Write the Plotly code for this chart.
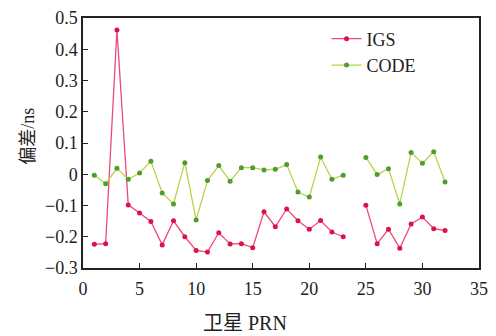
import plotly.graph_objects as go

prn = list(range(1, 33))
igs = [-0.224, -0.222, 0.462, -0.098, -0.124, -0.151, -0.226, -0.149, -0.200, -0.244,
       -0.249, -0.187, -0.223, -0.222, -0.235, -0.120, -0.168, -0.111, -0.149, -0.176,
       -0.148, -0.185, -0.200, None, -0.099, -0.222, -0.176, -0.237, -0.159, -0.137,
       -0.174, -0.180]
code = [-0.003, -0.030, 0.019, -0.016, 0.004, 0.042, -0.060, -0.095, 0.037, -0.146,
        -0.020, 0.028, -0.022, 0.021, 0.021, 0.014, 0.016, 0.031, -0.057, -0.073,
        0.055, -0.016, -0.003, None, 0.054, -0.001, 0.018, -0.095, 0.070, 0.035,
        0.072, -0.025]

x_ticks = [0, 5, 10, 15, 20, 25, 30, 35]
y_ticks = [-0.3, -0.2, -0.1, 0, 0.1, 0.2, 0.3, 0.4, 0.5]

font_main = "Liberation Serif, Times New Roman, Noto Sans CJK SC, serif"
txt_col = "#222222"

fig = go.Figure()
fig.add_trace(go.Scatter(
    x=prn, y=igs, name="IGS", mode="lines+markers", connectgaps=False,
    line=dict(color="#ee4a78", width=1.3),
    marker=dict(color="#dc1446", size=5),
))
fig.add_trace(go.Scatter(
    x=prn, y=code, name="CODE", mode="lines+markers", connectgaps=False,
    line=dict(color="#b8d44a", width=1.3),
    marker=dict(color="#4c9e30", size=5),
))

axis_common = dict(
    showline=True, linecolor=txt_col, linewidth=1.5, mirror=True,
    ticks="inside", ticklen=5, tickwidth=1.2, tickcolor=txt_col,
    showgrid=False, zeroline=False,
    tickfont=dict(family=font_main, size=18, color=txt_col),
)

fig.update_xaxes(range=[0, 35], tickvals=x_ticks, ticklabelstandoff=4, **axis_common)
fig.update_yaxes(range=[-0.3, 0.5], tickvals=y_ticks,
                 ticktext=[("\u2212" + f"{abs(v):g}") if v < 0 else f"{v:g}" for v in y_ticks],
                 **axis_common)

fig.add_annotation(text="卫星 PRN", xref="paper", yref="paper", x=(249 - 83) / 405, y=-0.22,
                   xanchor="center", yanchor="middle", showarrow=False,
                   font=dict(family=font_main, size=20, color=txt_col))
fig.add_annotation(text="偏差/ns", xref="paper", yref="paper", x=(26 - 83) / 405,
                   y=(268 - 135) / 253, textangle=-90,
                   xanchor="center", yanchor="middle", showarrow=False,
                   font=dict(family=font_main, size=18, color=txt_col))

fig.update_layout(
    width=496, height=336,
    margin=dict(l=83, r=8, t=15, b=68),
    plot_bgcolor="white", paper_bgcolor="white",
    showlegend=True,
    legend=dict(x=0.615, y=0.99, xanchor="left", yanchor="top",
                bgcolor="rgba(0,0,0,0)", itemwidth=30,
                font=dict(family=font_main, size=18, color=txt_col),
                tracegroupgap=0),
)

fig.write_html("out.html")
